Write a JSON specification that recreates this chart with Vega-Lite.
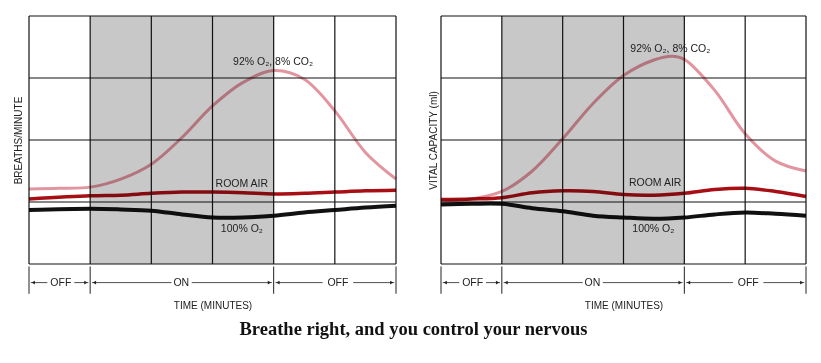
{
  "$schema": "https://vega.github.io/schema/vega-lite/v6.json",
  "padding": {"left": 13, "top": 15, "right": 5, "bottom": 2},
  "background": "white",
  "spacing": 24,
  "title": {"text": "Breathe right, and you control your nervous", "orient": "bottom", "anchor": "middle", "font": "Liberation Serif", "fontSize": 18.5, "fontWeight": "bold", "color": "#111", "offset": 10},
  "config": {
    "view": {"stroke": null},
    "axis": {"titleFont": "Liberation Sans", "titleFontSize": 10, "titleFontWeight": "normal", "titleColor": "#222", "labels": false, "ticks": false, "domain": false, "grid": false},
    "text": {"font": "Liberation Sans", "fontSize": 10.5, "color": "#222"}
  },
  "datasets": {
    "curves": [
      {"panel": "A", "series": "mix", "t": 0, "v": 1.21}, {"panel": "A", "series": "mix", "t": 0.5, "v": 1.22}, {"panel": "A", "series": "mix", "t": 1, "v": 1.24}, {"panel": "A", "series": "mix", "t": 1.5, "v": 1.37}, {"panel": "A", "series": "mix", "t": 2, "v": 1.61}, {"panel": "A", "series": "mix", "t": 2.5, "v": 2.04}, {"panel": "A", "series": "mix", "t": 3, "v": 2.55}, {"panel": "A", "series": "mix", "t": 3.5, "v": 2.93}, {"panel": "A", "series": "mix", "t": 4, "v": 3.12}, {"panel": "A", "series": "mix", "t": 4.5, "v": 2.98}, {"panel": "A", "series": "mix", "t": 5, "v": 2.47}, {"panel": "A", "series": "mix", "t": 5.5, "v": 1.8}, {"panel": "A", "series": "mix", "t": 6, "v": 1.37},
      {"panel": "A", "series": "room", "t": 0, "v": 1.05}, {"panel": "A", "series": "room", "t": 1, "v": 1.1}, {"panel": "A", "series": "room", "t": 1.5, "v": 1.11}, {"panel": "A", "series": "room", "t": 2, "v": 1.14}, {"panel": "A", "series": "room", "t": 2.5, "v": 1.16}, {"panel": "A", "series": "room", "t": 3, "v": 1.16}, {"panel": "A", "series": "room", "t": 3.5, "v": 1.15}, {"panel": "A", "series": "room", "t": 4, "v": 1.13}, {"panel": "A", "series": "room", "t": 4.5, "v": 1.14}, {"panel": "A", "series": "room", "t": 5, "v": 1.16}, {"panel": "A", "series": "room", "t": 5.5, "v": 1.18}, {"panel": "A", "series": "room", "t": 6, "v": 1.19},
      {"panel": "A", "series": "o2", "t": 0, "v": 0.87}, {"panel": "A", "series": "o2", "t": 1, "v": 0.89}, {"panel": "A", "series": "o2", "t": 1.5, "v": 0.88}, {"panel": "A", "series": "o2", "t": 2, "v": 0.86}, {"panel": "A", "series": "o2", "t": 2.5, "v": 0.8}, {"panel": "A", "series": "o2", "t": 3, "v": 0.75}, {"panel": "A", "series": "o2", "t": 3.5, "v": 0.75}, {"panel": "A", "series": "o2", "t": 4, "v": 0.78}, {"panel": "A", "series": "o2", "t": 4.5, "v": 0.83}, {"panel": "A", "series": "o2", "t": 5, "v": 0.87}, {"panel": "A", "series": "o2", "t": 5.5, "v": 0.91}, {"panel": "A", "series": "o2", "t": 6, "v": 0.94},
      {"panel": "B", "series": "mix", "t": 0, "v": 1.02}, {"panel": "B", "series": "mix", "t": 0.5, "v": 1.05}, {"panel": "B", "series": "mix", "t": 1, "v": 1.17}, {"panel": "B", "series": "mix", "t": 1.5, "v": 1.5}, {"panel": "B", "series": "mix", "t": 2, "v": 2.02}, {"panel": "B", "series": "mix", "t": 2.5, "v": 2.59}, {"panel": "B", "series": "mix", "t": 3, "v": 3.04}, {"panel": "B", "series": "mix", "t": 3.5, "v": 3.29}, {"panel": "B", "series": "mix", "t": 3.8, "v": 3.35}, {"panel": "B", "series": "mix", "t": 4, "v": 3.3}, {"panel": "B", "series": "mix", "t": 4.5, "v": 2.8}, {"panel": "B", "series": "mix", "t": 5, "v": 2.1}, {"panel": "B", "series": "mix", "t": 5.5, "v": 1.66}, {"panel": "B", "series": "mix", "t": 6, "v": 1.5},
      {"panel": "B", "series": "room", "t": 0, "v": 1.04}, {"panel": "B", "series": "room", "t": 0.5, "v": 1.05}, {"panel": "B", "series": "room", "t": 1, "v": 1.07}, {"panel": "B", "series": "room", "t": 1.5, "v": 1.15}, {"panel": "B", "series": "room", "t": 2, "v": 1.18}, {"panel": "B", "series": "room", "t": 2.5, "v": 1.17}, {"panel": "B", "series": "room", "t": 3, "v": 1.12}, {"panel": "B", "series": "room", "t": 3.5, "v": 1.11}, {"panel": "B", "series": "room", "t": 4, "v": 1.14}, {"panel": "B", "series": "room", "t": 4.5, "v": 1.2}, {"panel": "B", "series": "room", "t": 5, "v": 1.22}, {"panel": "B", "series": "room", "t": 5.5, "v": 1.17}, {"panel": "B", "series": "room", "t": 6, "v": 1.09},
      {"panel": "B", "series": "o2", "t": 0, "v": 0.96}, {"panel": "B", "series": "o2", "t": 0.5, "v": 0.97}, {"panel": "B", "series": "o2", "t": 1, "v": 0.97}, {"panel": "B", "series": "o2", "t": 1.5, "v": 0.9}, {"panel": "B", "series": "o2", "t": 2, "v": 0.85}, {"panel": "B", "series": "o2", "t": 2.5, "v": 0.78}, {"panel": "B", "series": "o2", "t": 3, "v": 0.75}, {"panel": "B", "series": "o2", "t": 3.5, "v": 0.73}, {"panel": "B", "series": "o2", "t": 4, "v": 0.75}, {"panel": "B", "series": "o2", "t": 4.5, "v": 0.8}, {"panel": "B", "series": "o2", "t": 5, "v": 0.83}, {"panel": "B", "series": "o2", "t": 5.5, "v": 0.81}, {"panel": "B", "series": "o2", "t": 6, "v": 0.78}
    ],
    "labels": [
      {"panel": "A", "text": "92% O₂, 8% CO₂", "t": 3.99, "v": 3.26},
      {"panel": "A", "text": "ROOM AIR", "t": 3.48, "v": 1.29},
      {"panel": "A", "text": "100% O₂", "t": 3.48, "v": 0.56},
      {"panel": "B", "text": "92% O₂, 8% CO₂", "t": 3.77, "v": 3.46},
      {"panel": "B", "text": "ROOM AIR", "t": 3.52, "v": 1.3},
      {"panel": "B", "text": "100% O₂", "t": 3.49, "v": 0.57}
    ],
    "vgrid": [{"t": 0}, {"t": 1}, {"t": 2}, {"t": 3}, {"t": 4}, {"t": 5}, {"t": 6}],
    "hgrid": [{"v": 0}, {"v": 1}, {"v": 2}, {"v": 3}, {"v": 4}],
    "shade": [{"start": 1, "end": 4}],
    "ticks": [{"t": 0}, {"t": 1}, {"t": 4}, {"t": 6}],
    "phases": [{"label": "OFF", "t": 0.52}, {"label": "ON", "t": 2.49}, {"label": "OFF", "t": 5.05}],
    "segments": [{"a": 0.03, "b": 0.3}, {"a": 0.74, "b": 0.97}, {"a": 1.03, "b": 2.33}, {"a": 2.66, "b": 3.97}, {"a": 4.03, "b": 4.8}, {"a": 5.3, "b": 5.97}],
    "heads": [{"t": 0.07, "dir": "L"}, {"t": 0.93, "dir": "R"}, {"t": 1.07, "dir": "L"}, {"t": 3.93, "dir": "R"}, {"t": 4.07, "dir": "L"}, {"t": 5.93, "dir": "R"}]
  },
  "hconcat": [
    {
      "width": 367, "height": 279,
      "encoding": {
        "x": {"type": "quantitative", "scale": {"domain": [0, 6], "nice": false, "zero": false}, "axis": {"title": "TIME (MINUTES)", "titlePadding": 5}},
        "y": {"type": "quantitative", "scale": {"domain": [-0.5, 4], "nice": false, "zero": false}, "axis": {"title": "BREATHS/MINUTE", "titleY": 124, "titlePadding": 6}}
      },
      "layer": [
        {"data": {"name": "shade"}, "mark": {"type": "rect", "color": "#c8c8c8"}, "encoding": {"x": {"field": "start"}, "x2": {"field": "end"}, "y": {"datum": 0}, "y2": {"datum": 4}}},
        {"data": {"name": "vgrid"}, "mark": {"type": "rule", "color": "#111", "strokeWidth": 1.2}, "encoding": {"x": {"field": "t"}, "y": {"datum": 0}, "y2": {"datum": 4}}},
        {"data": {"name": "hgrid"}, "mark": {"type": "rule", "color": "#111", "strokeWidth": 1.2}, "encoding": {"y": {"field": "v"}, "x": {"datum": 0}, "x2": {"datum": 6}}},
        {"data": {"name": "curves"}, "transform": [{"filter": "datum.panel === 'A'"}], "mark": {"type": "line", "interpolate": "catmull-rom", "blend": "multiply"},
          "encoding": {"x": {"field": "t"}, "y": {"field": "v"}, "detail": {"field": "series"},
            "color": {"field": "series", "type": "nominal", "scale": {"domain": ["mix", "room", "o2"], "range": ["#e3959f", "#a80f14", "#111111"]}, "legend": null},
            "strokeWidth": {"field": "series", "type": "nominal", "scale": {"domain": ["mix", "room", "o2"], "range": [3, 4, 4]}, "legend": null}}},
        {"data": {"name": "labels"}, "transform": [{"filter": "datum.panel === 'A'"}], "mark": {"type": "text"}, "encoding": {"x": {"field": "t"}, "y": {"field": "v"}, "text": {"field": "text"}}},
        {"data": {"name": "ticks"}, "mark": {"type": "rule", "color": "#222", "strokeWidth": 1}, "encoding": {"x": {"field": "t"}, "y": {"datum": -0.04}, "y2": {"datum": -0.48}}},
        {"data": {"name": "segments"}, "mark": {"type": "rule", "color": "#222", "strokeWidth": 0.8}, "encoding": {"x": {"field": "a"}, "x2": {"field": "b"}, "y": {"datum": -0.3}}},
        {"data": {"name": "heads"}, "mark": {"type": "point", "filled": true, "color": "#222", "size": 14, "opacity": 1}, "encoding": {"x": {"field": "t"}, "y": {"datum": -0.3}, "shape": {"field": "dir", "type": "nominal", "scale": {"domain": ["L", "R"], "range": ["triangle-left", "triangle-right"]}, "legend": null}}},
        {"data": {"name": "phases"}, "mark": {"type": "text"}, "encoding": {"x": {"field": "t"}, "y": {"datum": -0.3}, "text": {"field": "label"}}}
      ]
    },
    {
      "width": 365, "height": 279,
      "encoding": {
        "x": {"type": "quantitative", "scale": {"domain": [0, 6], "nice": false, "zero": false}, "axis": {"title": "TIME (MINUTES)", "titlePadding": 5}},
        "y": {"type": "quantitative", "scale": {"domain": [-0.5, 4], "nice": false, "zero": false}, "axis": {"title": "VITAL CAPACITY (ml)", "titleY": 124, "titlePadding": 3}}
      },
      "layer": [
        {"data": {"name": "shade"}, "mark": {"type": "rect", "color": "#c8c8c8"}, "encoding": {"x": {"field": "start"}, "x2": {"field": "end"}, "y": {"datum": 0}, "y2": {"datum": 4}}},
        {"data": {"name": "vgrid"}, "mark": {"type": "rule", "color": "#111", "strokeWidth": 1.2}, "encoding": {"x": {"field": "t"}, "y": {"datum": 0}, "y2": {"datum": 4}}},
        {"data": {"name": "hgrid"}, "mark": {"type": "rule", "color": "#111", "strokeWidth": 1.2}, "encoding": {"y": {"field": "v"}, "x": {"datum": 0}, "x2": {"datum": 6}}},
        {"data": {"name": "curves"}, "transform": [{"filter": "datum.panel === 'B'"}], "mark": {"type": "line", "interpolate": "catmull-rom", "blend": "multiply"},
          "encoding": {"x": {"field": "t"}, "y": {"field": "v"}, "detail": {"field": "series"},
            "color": {"field": "series", "type": "nominal", "scale": {"domain": ["mix", "room", "o2"], "range": ["#e3959f", "#a80f14", "#111111"]}, "legend": null},
            "strokeWidth": {"field": "series", "type": "nominal", "scale": {"domain": ["mix", "room", "o2"], "range": [3, 4, 4]}, "legend": null}}},
        {"data": {"name": "labels"}, "transform": [{"filter": "datum.panel === 'B'"}], "mark": {"type": "text"}, "encoding": {"x": {"field": "t"}, "y": {"field": "v"}, "text": {"field": "text"}}},
        {"data": {"name": "ticks"}, "mark": {"type": "rule", "color": "#222", "strokeWidth": 1}, "encoding": {"x": {"field": "t"}, "y": {"datum": -0.04}, "y2": {"datum": -0.48}}},
        {"data": {"name": "segments"}, "mark": {"type": "rule", "color": "#222", "strokeWidth": 0.8}, "encoding": {"x": {"field": "a"}, "x2": {"field": "b"}, "y": {"datum": -0.3}}},
        {"data": {"name": "heads"}, "mark": {"type": "point", "filled": true, "color": "#222", "size": 14, "opacity": 1}, "encoding": {"x": {"field": "t"}, "y": {"datum": -0.3}, "shape": {"field": "dir", "type": "nominal", "scale": {"domain": ["L", "R"], "range": ["triangle-left", "triangle-right"]}, "legend": null}}},
        {"data": {"name": "phases"}, "mark": {"type": "text"}, "encoding": {"x": {"field": "t"}, "y": {"datum": -0.3}, "text": {"field": "label"}}}
      ]
    }
  ]
}
